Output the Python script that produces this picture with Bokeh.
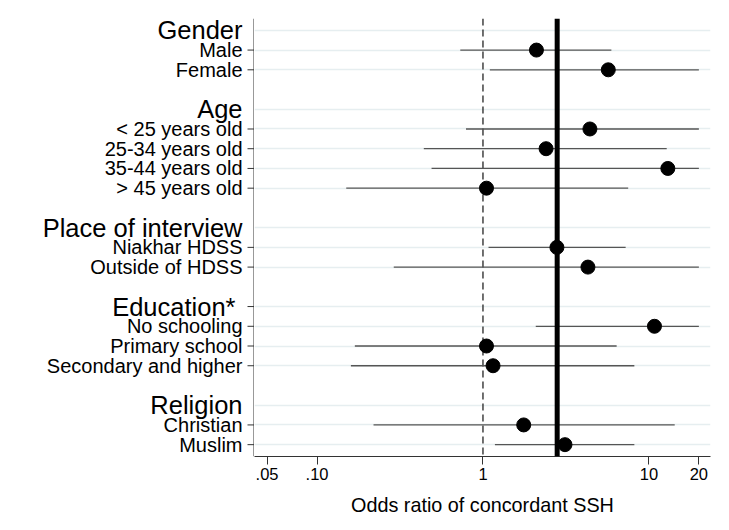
from bokeh.plotting import figure
from bokeh.layouts import row as bk_row
from bokeh.models import Range1d, FixedTicker, Span, ColumnDataSource
from bokeh.core.properties import value
from bokeh.embed import file_html
from bokeh.resources import INLINE

# ---- data -------------------------------------------------------------
headings = ["Gender", "Age", "Place of interview", "Education*", "Religion"]
items = [
    ["Male", "Female"],
    ["< 25 years old", "25-34 years old", "35-44 years old", "> 45 years old"],
    ["Niakhar HDSS", "Outside of HDSS"],
    ["No schooling", "Primary school", "Secondary and higher"],
    ["Christian", "Muslim"],
]
odds = [
    [2.10, 5.69],
    [4.41, 2.40, 13.0, 1.05],
    [2.79, 4.29],
    [10.8, 1.05, 1.15],
    [1.76, 3.12],
]
ci_low = [
    [0.73, 1.10],
    [0.79, 0.44, 0.49, 0.150],
    [1.08, 0.29],
    [2.08, 0.169, 0.160],
    [0.219, 1.18],
]
ci_high = [
    [5.94, 20.0],
    [20.0, 12.8, 20.0, 7.5],
    [7.24, 20.0],
    [20.0, 6.39, 8.17],
    [14.3, 8.17],
]
overall_or = 2.8
null_value = 1
x_ticks = [0.05, 0.1, 1, 10, 20]
x_tick_labels = [".05", ".10", "1", "10", "20"]
x_title = "Odds ratio of concordant SSH"

# ---- layout of rows ---------------------------------------------------
r = 0
head_rows, item_rows = [], []
ys, xs, los, his, names = [], [], [], [], []
for h, its, o, l, u in zip(headings, items, odds, ci_low, ci_high):
    head_rows.append(r)
    r += 1
    for name, ov, lv, hv in zip(its, o, l, u):
        item_rows.append(r)
        ys.append(r); xs.append(ov); los.append(lv); his.append(hv); names.append(name)
        r += 1
    r += 1
last_row = r - 2

FONT = "Liberation Sans"
X_START, X_END = 0.042, 23.5
H = 522
TOP, BOTTOM = 18, 66
LEFT_W = 254          # width of the label column (frame starts right after)
Y0, Y1 = last_row + 0.6, -0.6

yr = Range1d(Y0, Y1)

# ---- main plot ----------------------------------------------------------
p = figure(width=721 - LEFT_W, height=H, output_backend="svg", toolbar_location=None,
           x_axis_type="log", y_axis_location=None,
           x_range=Range1d(X_START, X_END), y_range=yr,
           min_border_left=0, min_border_right=11,
           min_border_top=TOP, min_border_bottom=BOTTOM)
p.outline_line_color = None
p.background_fill_color = "white"
p.border_fill_color = "white"

p.xgrid.grid_line_color = None
p.ygrid.ticker = FixedTicker(ticks=sorted(head_rows + item_rows))
p.ygrid.grid_line_color = "#e6eef0"
p.ygrid.grid_line_width = 1.5

xa = p.xaxis[0]
xa.ticker = FixedTicker(ticks=x_ticks, minor_ticks=[])
xa.major_label_overrides = {t: s for t, s in zip(x_ticks, x_tick_labels)}
xa.major_label_text_font = FONT
xa.major_label_text_font_size = "16.5px"
xa.major_label_text_color = "black"
xa.major_tick_out = 8
xa.major_tick_in = 0
xa.minor_tick_line_color = None
xa.axis_line_color = "#333333"
xa.major_tick_line_color = "#333333"
xa.major_label_standoff = 3
xa.axis_label = x_title
xa.axis_label_text_font = FONT
xa.axis_label_text_font_size = "19.8px"
xa.axis_label_text_font_style = "normal"
xa.axis_label_text_color = "black"
xa.axis_label_standoff = 11

p.add_layout(Span(location=null_value, dimension="height", line_color="#111111",
                  line_width=1.2, line_dash="7 4", level="underlay"))

src = ColumnDataSource(dict(y=ys, x=xs, lo=los, hi=his))
p.segment(x0="lo", x1="hi", y0="y", y1="y", source=src, line_color="#555555", line_width=1.3)
p.add_layout(Span(location=overall_or, dimension="height", line_color="black", line_width=5))
p.scatter(x="x", y="y", source=src, size=14, fill_color="black", line_color="black")

# ---- label column with the left axis (shares the y scale) --------------
lab = figure(width=LEFT_W, height=H, output_backend="svg", toolbar_location=None,
             x_range=Range1d(0, LEFT_W), y_range=yr,
             x_axis_location=None, y_axis_location=None,
             min_border_left=0, min_border_right=0,
             min_border_top=TOP, min_border_bottom=BOTTOM)
lab.outline_line_color = None
lab.grid.grid_line_color = None
lab.border_fill_color = "white"
lab.background_fill_color = "white"

# axis line and tick marks
lab.segment(x0=[LEFT_W - 0.5], x1=[LEFT_W - 0.5], y0=[Y0], y1=[Y1],
            line_color="#333333", line_width=1)
edu_head = head_rows[headings.index("Education*")]
tick_rows = sorted(item_rows + [edu_head])
lab.segment(x0=[LEFT_W - 7] * len(tick_rows), x1=[LEFT_W] * len(tick_rows),
            y0=tick_rows, y1=tick_rows, line_color="#333333", line_width=1)

lab.text(x=[LEFT_W - 12] * len(names), y=item_rows, text=names,
         text_align="right", text_baseline="middle",
         text_font=value(FONT), text_font_size="20px", text_color="black")
head_x = [LEFT_W - (19 if h == "Education*" else 12) for h in headings]
lab.text(x=head_x, y=head_rows, text=headings,
         text_align="right", text_baseline="middle",
         text_font=value(FONT), text_font_size="25.5px", text_color="black")

layout = bk_row(lab, p)
open("out.html", "w").write(file_html(layout, INLINE))
